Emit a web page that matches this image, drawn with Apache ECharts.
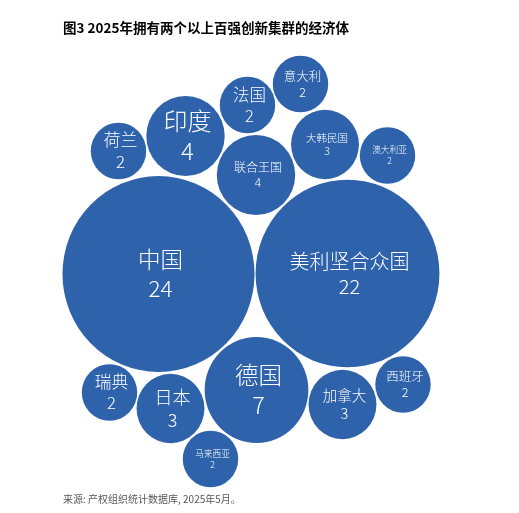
<!DOCTYPE html>
<html>
<head>
<meta charset="utf-8">
<script src="https://cdn.jsdelivr.net/npm/echarts@6/dist/echarts.min.js"></script>
<style>
html, body { margin: 0; padding: 0; background: #fff; }
#chart { width: 519px; height: 513px; }
</style>
</head>
<body>
<div id="chart"></div>
<script>
// Economies with two or more top-100 clusters
var names = ['中国', '美利坚合众国', '德国', '印度', '联合王国', '大韩民国', '日本', '加拿大',
    '法国', '意大利', '荷兰', '澳大利亚', '瑞典', '马来西亚', '西班牙'];
var counts = [24, 22, 7, 4, 4, 3, 3, 3, 2, 2, 2, 2, 2, 2, 2];

// bubble centres (packed layout)
var posX = [158.5, 347.5, 256.5, 185.5, 256, 325, 170.5, 342.5, 247.5, 300.5, 118.5, 387.5, 109.5, 210.5, 403];
var posY = [274, 273.5, 390, 136, 175, 144.5, 408.5, 404.5, 105, 84, 151, 155.5, 392.5, 459, 384.5];

// label font size per bubble
var labelSize = [22.5, 20, 23.5, 24, 12, 10.5, 18, 14.5, 16.5, 12.5, 17, 8.7, 16.7, 8.7, 12.5];

var FONT = '"Noto Sans CJK SC", "Noto Sans", sans-serif';

function build_data() {
    var data = [];
    for (var i = 0; i < names.length; i++) {
        data.push({
            name: names[i],
            value: [posX[i], posY[i], counts[i]],
            label: {
                fontSize: labelSize[i],
                lineHeight: Math.round(labelSize[i] * 1.27)
            }
        });
    }
    return data;
}

var myChart = echarts.init(document.getElementById('chart'), null, { renderer: 'canvas' });

var option = {
    backgroundColor: '#fff',
    animation: false,
    title: [{
        text: '图3 2025年拥有两个以上百强创新集群的经济体',
        left: 63,
        top: 21,
        padding: 0,
        textStyle: { fontFamily: FONT, fontSize: 13.5, fontWeight: 'bold', color: '#000' }
    }, {
        text: '来源: 产权组织统计数据库, 2025年5月。',
        left: 63,
        top: 494,
        padding: 0,
        textStyle: { fontFamily: FONT, fontSize: 10, fontWeight: 'normal', color: '#595959' }
    }],
    grid: { left: 0, right: 0, top: 0, bottom: 0 },
    xAxis: { type: 'value', min: 0, max: 519, show: false },
    yAxis: { type: 'value', min: 0, max: 513, inverse: true, show: false },
    series: [{
        type: 'scatter',
        data: build_data(),
        symbol: 'circle',
        symbolSize: function (val) {
            var s = Math.sqrt(val[2]);
            return [s * 39.2, s * 40];
        },
        itemStyle: { color: '#2e62ab', opacity: 1 },
        label: {
            show: true,
            position: 'inside',
            offset: [2, 0],
            color: '#fff',
            fontFamily: FONT,
            fontWeight: 300,
            align: 'center',
            formatter: function (params) {
                return params.name + '\n' + params.value[2];
            }
        },
        emphasis: { disabled: true }
    }]
};

myChart.setOption(option);
</script>
</body>
</html>
